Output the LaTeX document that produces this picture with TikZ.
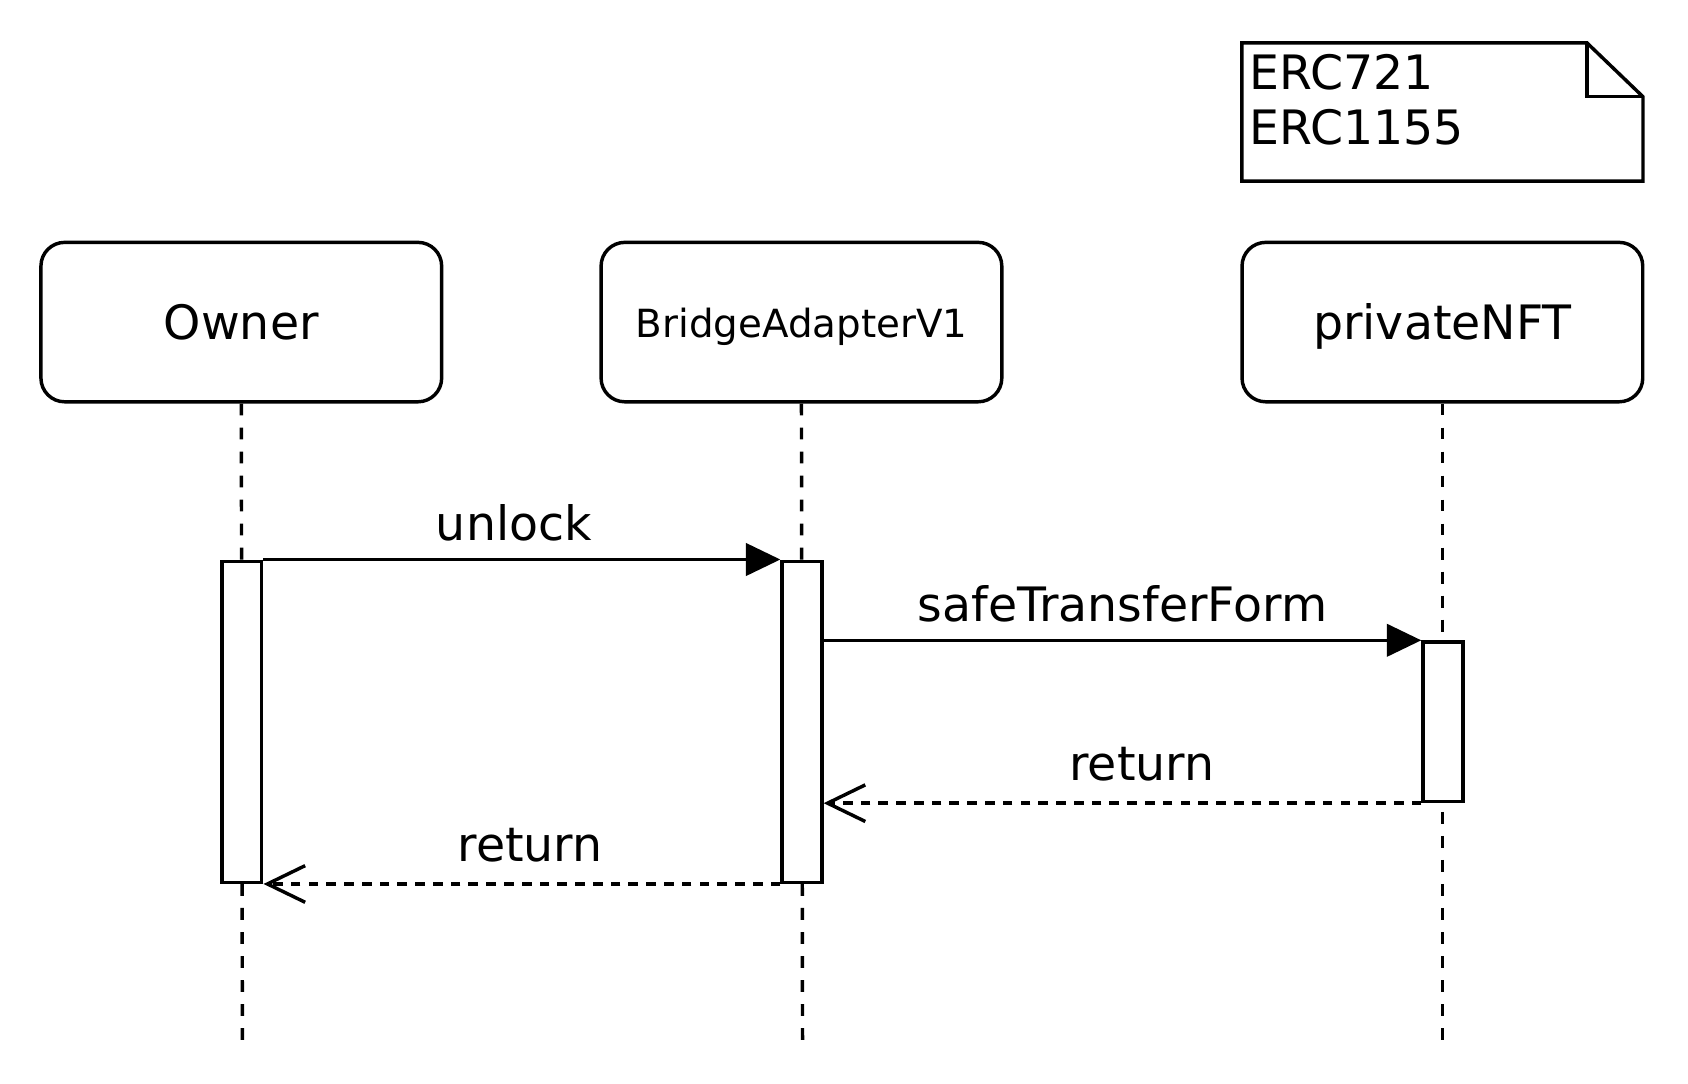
\documentclass[tikz,border=0pt]{standalone}
\usepackage{fontspec}
\setmainfont{DejaVu Sans}
\usetikzlibrary{arrows.meta,calc}
\begin{document}
\begin{tikzpicture}[x=1pt,y=-1pt,
  every node/.style={font=\fontsize{44}{51}\selectfont},
  actor/.style={draw, line width=3.2pt, rounded corners=22pt, minimum width=372pt, minimum height=148pt, inner sep=0pt, text height=32pt, text depth=0pt},
  actbox/.style={draw, fill=white, line width=3.2pt, minimum width=37pt, inner sep=0pt},
  lifeline/.style={line width=3.2pt, dash pattern=on 11pt off 11.3pt},
  callarrow/.style={line width=3.2pt, -{Triangle[length=32pt,width=30pt]}},
  retarrow/.style={line width=3.2pt, dash pattern=on 9pt off 7.5pt, -{Straight Barb[length=35pt,width=34pt,line width=3.2pt]}},
  msglabel/.style={anchor=base, inner sep=0pt}
]
\useasboundingbox (0,0) rectangle (1567,1006);
% actors
\node[actor] (owner) at (224,299) {Owner};
\node[actor, font=\fontsize{36}{43}\selectfont, text height=28pt] (bridge) at (744,299) {BridgeAdapterV1};
\node[actor] (nft) at (1339,299) {privateNFT};
% lifeline ends
\coordinate (oend) at (225,966);
\coordinate (bend) at (745,966);
\coordinate (nend) at (1339,966);
\draw[lifeline] (owner.south) -- (oend);
\draw[lifeline] (bridge.south) -- (bend);
\draw[lifeline] (nft.south) -- (nend);
% activations
\node[actbox, minimum height=298pt] (oa) at (224.5,670) {};
\node[actbox, minimum height=298pt] (ba) at (744.5,670) {};
\node[actbox, minimum height=148pt] (na) at (1339.5,670) {};
% messages
\draw[callarrow] (oa.north east) -- (ba.north west);
\draw[callarrow] (ba.east |- na.north) -- (na.north west);
\draw[retarrow] (na.south west) -- (ba.east |- na.south);
\draw[retarrow] (ba.south west) -- (oa.south east);
\node[msglabel] (l1) at (477,502) {unlock};
\node[msglabel] (l2) at (1042,577) {safeTransferForm};
\node[msglabel] (l3) at (1060,725) {return};
\node[msglabel] (l4) at (492,800) {return};
% note
\node[minimum width=372pt, minimum height=128pt, inner sep=0pt] (note) at (1339,104) {};
\draw[line width=3.2pt, line join=miter]
  (note.north west) -- ($(note.north east)+(-52,0)$) -- ($(note.north east)+(0,50)$) -- (note.south east) -- (note.south west) -- cycle;
\draw[line width=3.2pt]
  ($(note.north east)+(-52,0)$) -- ($(note.north east)+(-52,50)$) -- ($(note.north east)+(0,50)$);
\node[anchor=north west, align=left, inner sep=0pt] (notetext) at (1160,50) {ERC721\\ERC1155};
\end{tikzpicture}
\end{document}
